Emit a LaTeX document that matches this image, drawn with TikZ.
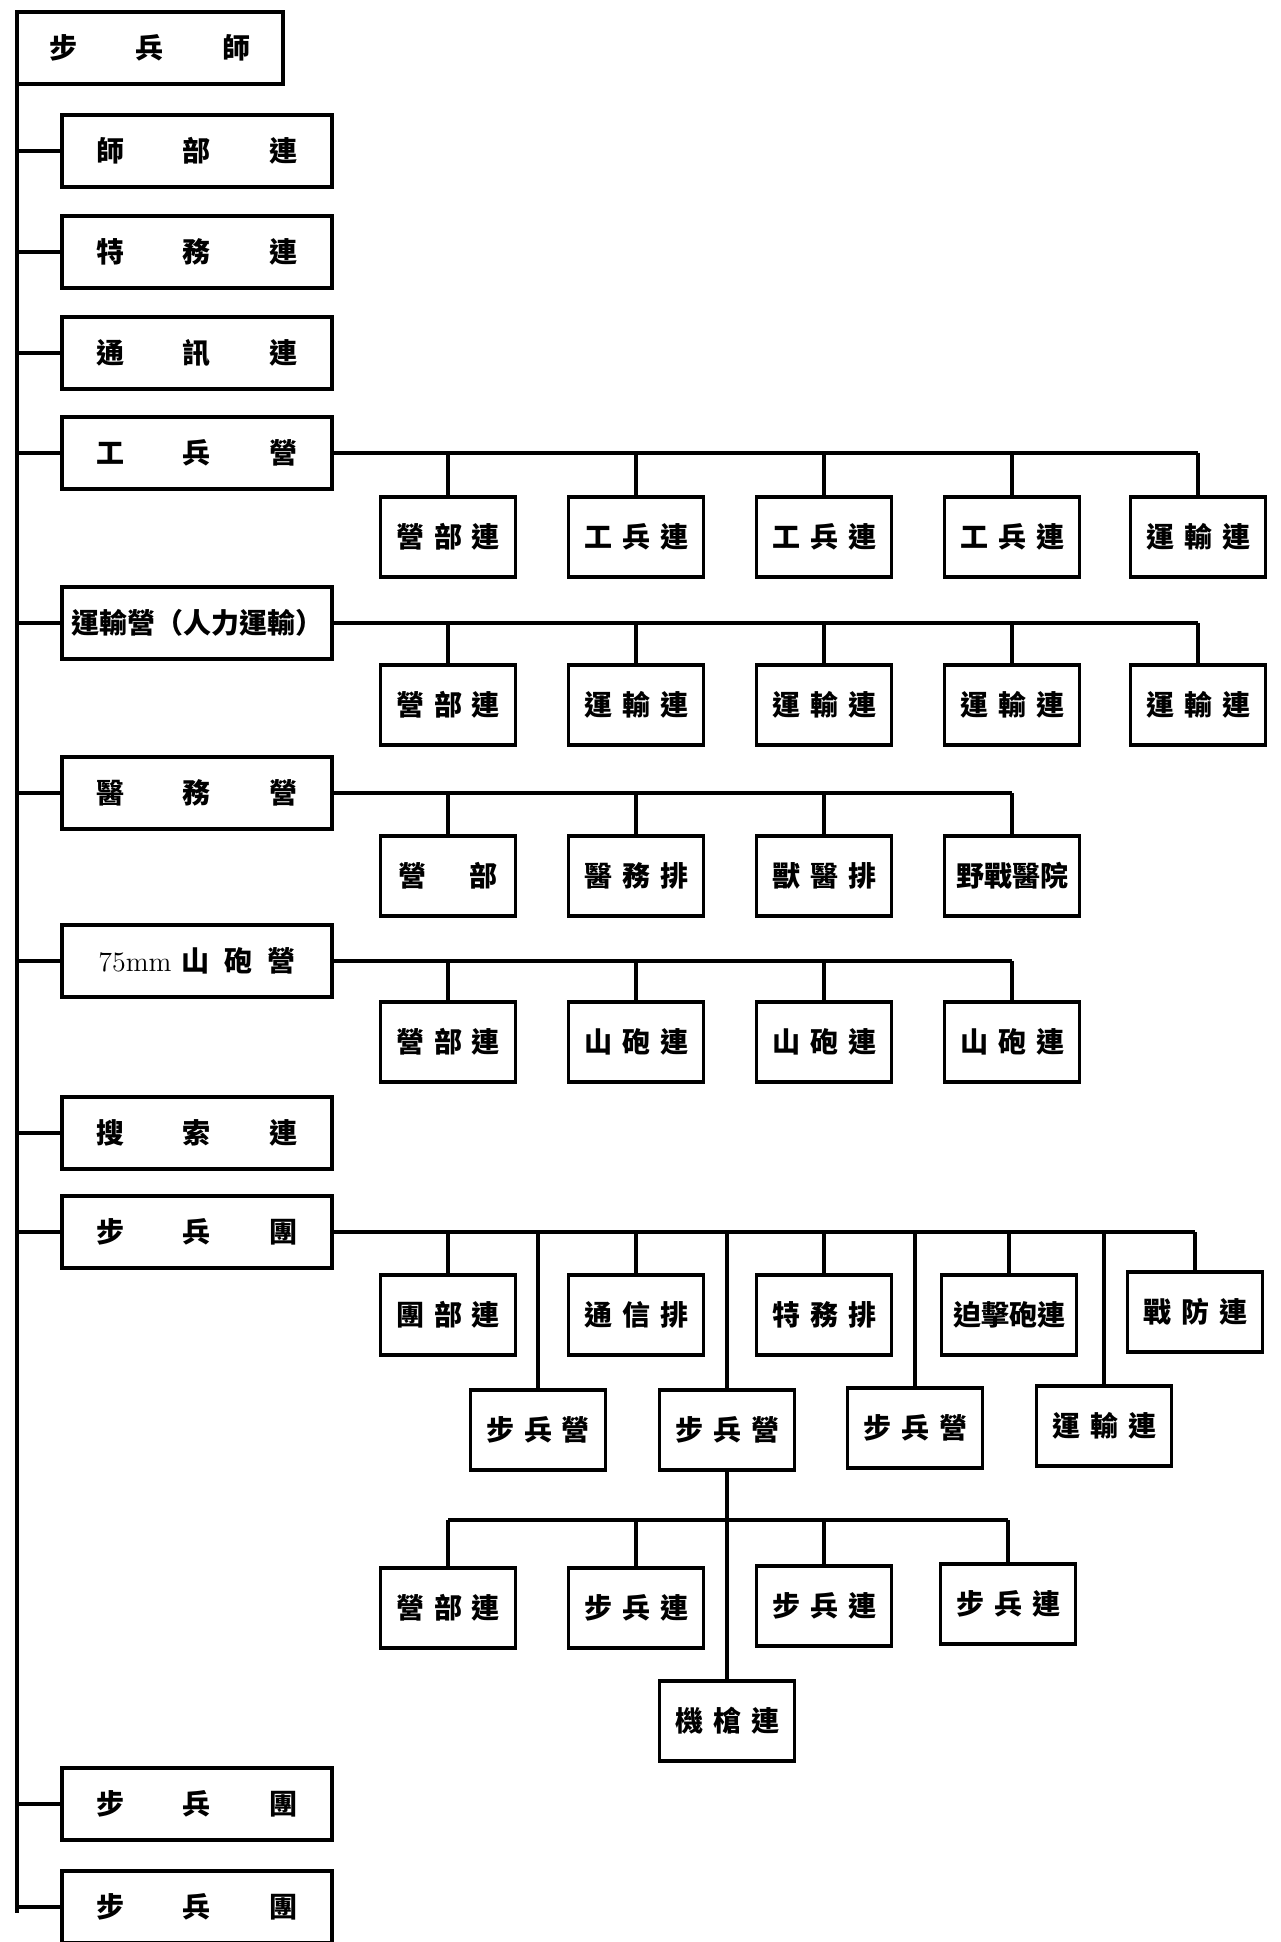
\documentclass[tikz,border=0pt]{standalone}
\usepackage{fontspec}
\newfontfamily\cjk{Noto Sans CJK TC}
\usepackage{tikz}
\newcommand{\wide}[3]{#1\hspace{29.5pt}#2\hspace{29.5pt}#3}
\newcommand{\tight}[3]{#1\hspace{5pt}#2\hspace{5pt}#3}

\begin{document}
\begin{tikzpicture}[x=0.5pt,y=-0.5pt]
      \tikzstyle{point} = [coordinate]
      \tikzstyle{unit} = [rectangle, draw, line width=1.8pt, inner sep=0pt, minimum width=135pt, minimum height=36pt, font=\cjk\bfseries\fontsize{14pt}{16pt}\selectfont]
      \tikzstyle{sub} = [rectangle, draw, line width=1.8pt, inner sep=0pt, minimum width=67.5pt, minimum height=40pt, font=\cjk\bfseries\fontsize{14pt}{16pt}\selectfont]
      \tikzstyle{link} = [line width=1.6pt]
      \useasboundingbox (0,0) rectangle (1280,1942);
      % division and its units
      \node (spine) [point] at (17,13) {};
      \node (spineend) [point] at (17,1913) {};
      \node (div) [unit, minimum width=133pt] at (150,48) {\wide{步}{兵}{師}};
      \node (hq) [unit] at (197,151) {\wide{師}{部}{連}};
      \node (spec) [unit] at (197,252) {\wide{特}{務}{連}};
      \node (sig) [unit] at (197,353) {\wide{通}{訊}{連}};
      \node (eng) [unit] at (197,453) {\wide{工}{兵}{營}};
      \node (trans) [unit] at (197,623) {運輸營（人力運輸）};
      \node (med) [unit] at (197,793) {\wide{醫}{務}{營}};
      \node (art) [unit] at (197,961) {{\normalfont 75mm}\hspace{5pt}山\hspace{7.5pt}砲\hspace{7.5pt}營};
      \node (recon) [unit] at (197,1133) {\wide{搜}{索}{連}};
      \node (reg) [unit] at (197,1232) {\wide{步}{兵}{團}};
      \node (reg2) [unit] at (197,1804) {\wide{步}{兵}{團}};
      \node (reg3) [unit] at (197,1907) {\wide{步}{兵}{團}};
      % engineer battalion
      \node (e1) [sub] at (448,537) {\tight{營}{部}{連}};
      \node (e2) [sub] at (636,537) {\tight{工}{兵}{連}};
      \node (e3) [sub] at (824,537) {\tight{工}{兵}{連}};
      \node (e4) [sub] at (1012,537) {\tight{工}{兵}{連}};
      \node (e5) [sub] at (1198,537) {\tight{運}{輸}{連}};
      % transport battalion
      \node (t1) [sub] at (448,705) {\tight{營}{部}{連}};
      \node (t2) [sub] at (636,705) {\tight{運}{輸}{連}};
      \node (t3) [sub] at (824,705) {\tight{運}{輸}{連}};
      \node (t4) [sub] at (1012,705) {\tight{運}{輸}{連}};
      \node (t5) [sub] at (1198,705) {\tight{運}{輸}{連}};
      % medical battalion
      \node (m1) [sub] at (448,876) {營\hspace{22pt}部};
      \node (m2) [sub] at (636,876) {\tight{醫}{務}{排}};
      \node (m3) [sub] at (824,876) {\tight{獸}{醫}{排}};
      \node (m4) [sub] at (1012,876) {野戰醫院};
      % mountain artillery battalion
      \node (a1) [sub] at (448,1042) {\tight{營}{部}{連}};
      \node (a2) [sub] at (636,1042) {\tight{山}{砲}{連}};
      \node (a3) [sub] at (824,1042) {\tight{山}{砲}{連}};
      \node (a4) [sub] at (1012,1042) {\tight{山}{砲}{連}};
      % infantry regiment, first row
      \node (r1) [sub] at (448,1315) {\tight{團}{部}{連}};
      \node (r2) [sub] at (636,1315) {\tight{通}{信}{排}};
      \node (r3) [sub] at (824,1315) {\tight{特}{務}{排}};
      \node (r4) [sub] at (1009,1315) {迫擊砲連};
      \node (r5) [sub] at (1195,1312) {\tight{戰}{防}{連}};
      % second row
      \node (b1) [sub] at (538,1430) {\tight{步}{兵}{營}};
      \node (b2) [sub] at (727,1430) {\tight{步}{兵}{營}};
      \node (b3) [sub] at (915,1428) {\tight{步}{兵}{營}};
      \node (b4) [sub] at (1104,1426) {\tight{運}{輸}{連}};
      % infantry battalion
      \node (bus) [point] at (727,1520) {};
      \node (c1) [sub] at (448,1608) {\tight{營}{部}{連}};
      \node (c2) [sub] at (636,1608) {\tight{步}{兵}{連}};
      \node (c3) [sub] at (824,1606) {\tight{步}{兵}{連}};
      \node (c4) [sub] at (1008,1604) {\tight{步}{兵}{連}};
      \node (mg) [sub] at (727,1721) {\tight{機}{槍}{連}};

      \draw [link, line width=2.2pt] (spine)--(spineend);
      \draw [link] (spine |- hq.west)--(hq.west);
      \draw [link] (spine |- spec.west)--(spec.west);
      \draw [link] (spine |- sig.west)--(sig.west);
      \draw [link] (spine |- eng.west)--(eng.west);
      \draw [link] (spine |- trans.west)--(trans.west);
      \draw [link] (spine |- med.west)--(med.west);
      \draw [link] (spine |- art.west)--(art.west);
      \draw [link] (spine |- recon.west)--(recon.west);
      \draw [link] (spine |- reg.west)--(reg.west);
      \draw [link] (spine |- reg2.west)--(reg2.west);
      \draw [link] (spine |- reg3.west)--(reg3.west);

      \draw [link] (eng.east)--(eng.east -| e5.north);
      \draw [link] (eng.east -| e1.north)--(e1.north);
      \draw [link] (eng.east -| e2.north)--(e2.north);
      \draw [link] (eng.east -| e3.north)--(e3.north);
      \draw [link] (eng.east -| e4.north)--(e4.north);
      \draw [link] (eng.east -| e5.north)--(e5.north);

      \draw [link] (trans.east)--(trans.east -| t5.north);
      \draw [link] (trans.east -| t1.north)--(t1.north);
      \draw [link] (trans.east -| t2.north)--(t2.north);
      \draw [link] (trans.east -| t3.north)--(t3.north);
      \draw [link] (trans.east -| t4.north)--(t4.north);
      \draw [link] (trans.east -| t5.north)--(t5.north);

      \draw [link] (med.east)--(med.east -| m4.north);
      \draw [link] (med.east -| m1.north)--(m1.north);
      \draw [link] (med.east -| m2.north)--(m2.north);
      \draw [link] (med.east -| m3.north)--(m3.north);
      \draw [link] (med.east -| m4.north)--(m4.north);

      \draw [link] (art.east)--(art.east -| a4.north);
      \draw [link] (art.east -| a1.north)--(a1.north);
      \draw [link] (art.east -| a2.north)--(a2.north);
      \draw [link] (art.east -| a3.north)--(a3.north);
      \draw [link] (art.east -| a4.north)--(a4.north);

      \draw [link] (reg.east)--(reg.east -| r5.north);
      \draw [link] (reg.east -| r1.north)--(r1.north);
      \draw [link] (reg.east -| r2.north)--(r2.north);
      \draw [link] (reg.east -| r3.north)--(r3.north);
      \draw [link] (reg.east -| r4.north)--(r4.north);
      \draw [link] (reg.east -| r5.north)--(r5.north);
      \draw [link] (reg.east -| b1.north)--(b1.north);
      \draw [link] (reg.east -| b2.north)--(b2.north);
      \draw [link] (reg.east -| b3.north)--(b3.north);
      \draw [link] (reg.east -| b4.north)--(b4.north);

      \draw [link] (b2.south)--(bus);
      \draw [link] (bus -| c1.north)--(bus -| c4.north);
      \draw [link] (bus -| c1.north)--(c1.north);
      \draw [link] (bus -| c2.north)--(c2.north);
      \draw [link] (bus -| c3.north)--(c3.north);
      \draw [link] (bus -| c4.north)--(c4.north);
      \draw [link] (bus)--(mg.north);
\end{tikzpicture}
\end{document}
